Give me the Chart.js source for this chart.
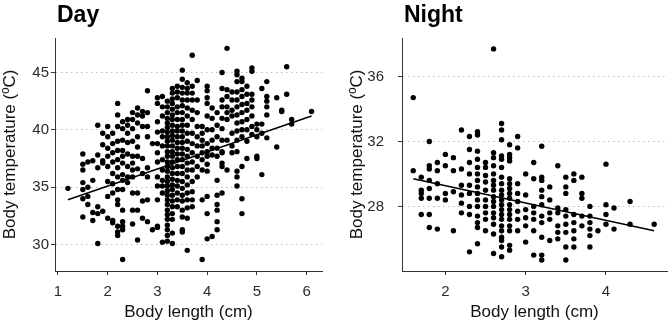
<!DOCTYPE html>
<html>
<head>
<meta charset="utf-8">
<script src="https://cdn.jsdelivr.net/npm/chart.js@4/dist/chart.umd.min.js"></script>
<style>
  body { margin: 0; background: #fff; }
  #wrap { position: relative; width: 671px; height: 325px; }
  .panel { position: absolute; top: 0; height: 325px; }
</style>
</head>
<body>
<div id="wrap">
  <div class="panel" style="left:0;width:335px"><canvas id="dayChart"></canvas></div>
  <div class="panel" style="left:335px;width:336px"><canvas id="nightChart"></canvas></div>
</div>
<script>
// Day: body length columns (cm) and the temperatures read at each one
const dayLength = [1.2, 1.5, 1.6, 1.7, 1.8, 1.9, 2.0, 2.1, 2.2, 2.3, 2.4, 2.5, 2.6, 2.7, 2.8, 2.9,
  3.0, 3.1, 3.2, 3.3, 3.4, 3.5, 3.6, 3.7, 3.8, 3.9, 4.0, 4.1, 4.2, 4.3, 4.4, 4.5, 4.6, 4.7, 4.8,
  4.9, 5.0, 5.1, 5.2, 5.4, 5.5, 5.6, 5.7, 6.1];
const dayTemp = [
  [34.9],
  [37.9, 37.0, 36.5, 35.4, 34.8, 34.0, 32.4],
  [37.2, 35.0, 34.2, 33.5],
  [37.3, 35.6, 32.8, 32.1],
  [40.4, 37.8, 36.7, 33.3, 32.7, 30.1],
  [39.7, 38.7, 37.3, 37.1, 32.9],
  [40.3, 39.4, 38.4, 37.7, 36.8, 35.5, 34.2, 32.3],
  [39.7, 38.8, 38.0, 37.2, 36.2, 35.3, 34.5, 32.1, 31.9],
  [42.3, 41.3, 40.3, 39.0, 38.2, 37.4, 36.7, 35.9, 34.8, 33.9, 33.5, 31.6, 31.1, 30.8],
  [40.7, 40.1, 39.1, 38.2, 37.7, 37.1, 36.1, 35.6, 34.8, 33.0, 32.0, 31.6, 31.3, 28.7],
  [40.9, 40.4, 39.7, 38.9, 37.9, 36.8, 35.9, 35.4],
  [41.5, 40.9, 40.1, 39.0, 37.7, 37.1, 36.5, 35.9, 34.5, 33.0, 31.8],
  [41.9, 41.3, 40.6, 39.4, 38.5, 37.7, 36.6, 34.5, 33.0, 30.4],
  [41.6, 41.2, 40.3, 37.5, 36.2, 33.8, 32.3],
  [43.4, 41.5, 40.3, 39.4, 36.7, 35.9, 33.9, 32.0],
  [38.8, 31.3],
  [42.8, 42.3, 40.7, 39.8, 38.8, 38.0, 37.2, 35.9, 35.1, 33.9, 31.6, 31.5],
  [42.9, 42.0, 41.2, 39.9, 39.4, 38.6, 37.4, 36.5, 35.6, 35.1, 34.5, 30.2],
  [42.5, 42.0, 41.5, 41.0, 40.6, 40.2, 39.8, 39.4, 39.0, 38.6, 38.1, 37.7, 37.2, 36.8, 36.4,
   35.9, 35.5, 35.1, 34.7, 34.3, 33.9, 33.5, 33.0, 32.6, 32.2, 31.7, 31.3, 30.8, 30.3],
  [43.6, 43.2, 42.7, 42.3, 41.8, 41.3, 40.9, 40.4, 39.9, 39.5, 39.1, 38.6, 38.1, 37.7, 37.2,
   36.7, 36.2, 35.7, 35.2, 34.8, 34.3, 33.8, 33.3, 32.7, 32.2, 31.0, 30.1],
  [43.8, 43.3, 42.8, 42.0, 41.5, 40.9, 40.3, 39.9, 39.4, 38.9, 38.4, 37.9, 37.4, 36.8, 36.2,
   35.6, 35.1, 34.5, 33.9, 33.3],
  [45.2, 44.4, 43.7, 43.2, 42.6, 42.1, 41.5, 40.9, 40.4, 39.9, 39.4, 38.9, 38.4, 37.9, 37.4,
   36.8, 36.2, 35.5, 34.9, 34.3, 33.8, 33.0, 32.4, 31.3, 31.1],
  [44.1, 43.6, 43.2, 42.6, 41.9, 41.2, 40.4, 39.7, 39.0, 38.3, 37.7, 37.1, 36.5, 35.9, 35.2,
   34.5, 33.9, 33.2, 32.3, 29.5],
  [46.5, 43.8, 43.2, 42.6, 41.7, 40.9, 39.7, 38.8, 38.0, 37.2, 36.5, 35.5, 34.6, 33.9, 33.3],
  [44.3, 42.6, 41.5, 40.3, 39.4, 38.6, 37.7, 36.8, 35.9],
  [40.3, 39.7, 39.1, 38.6, 38.0, 37.4, 36.5, 33.9, 28.7],
  [43.8, 43.4, 42.8, 42.3, 41.2, 40.0, 38.8, 38.1, 37.7, 37.0, 36.4, 34.2, 32.7, 30.5],
  [41.9, 41.0, 40.0, 39.1, 38.4, 37.8, 30.7],
  [41.5, 40.4, 39.4, 38.4, 37.7, 35.6, 34.3, 33.5, 33.0, 32.0, 31.3],
  [45.0, 43.6, 42.6, 42.0, 41.0, 40.1, 39.1, 38.1, 38.0, 37.1, 36.8, 34.5],
  [47.1, 43.5, 42.9, 42.0, 41.5, 40.9, 39.1, 36.5],
  [43.3, 42.6, 41.7, 41.2, 39.7, 38.6, 38.0],
  [45.1, 44.8, 44.2, 43.3, 42.6, 42.0, 41.3, 40.6, 39.9, 39.1, 38.1, 36.4, 35.9, 35.1],
  [44.5, 44.2, 43.5, 42.9, 42.2, 41.5, 40.7, 40.0, 39.4, 36.8, 34.0, 32.7],
  [43.8, 43.1, 42.3, 41.7, 40.9, 40.0, 39.0, 37.5],
  [45.4, 45.1, 43.1, 42.6, 42.0, 41.2, 40.3, 39.6],
  [40.5, 40.0, 39.4, 37.7, 37.5],
  [43.6, 40.5, 39.7, 36.1],
  [44.2, 42.9, 42.5, 42.0, 41.3, 39.3],
  [42.8, 38.5],
  [41.7, 41.6],
  [45.5, 43.1],
  [40.9, 40.5],
  [41.6]
];
const dayFitX = [1.2, 6.1];
const dayFitY = [33.9, 41.2];
const dayXTicks = [1, 2, 3, 4, 5, 6];
const dayYTicks = [30, 35, 40, 45];

// Night
const nightLength = [1.6, 1.7, 1.8, 1.9, 2.0, 2.1, 2.2, 2.3, 2.4, 2.5, 2.6, 2.7, 2.8, 2.9, 3.0,
  3.1, 3.2, 3.3, 3.4, 3.5, 3.6, 3.7, 3.8, 3.9, 4.0, 4.1, 4.3, 4.6];
const nightTemp = [
  [34.7, 30.2],
  [29.8, 29.0, 28.8, 28.5, 27.5],
  [32.0, 30.5, 30.3, 29.6, 29.1, 28.5, 27.5, 26.7],
  [30.7, 30.2, 29.4, 28.5, 26.6],
  [31.2, 30.5, 28.8, 28.4],
  [31.0, 30.2, 28.9, 26.5],
  [32.7, 30.3, 29.3, 28.7, 28.2, 27.6],
  [32.3, 31.5, 30.7, 30.0, 29.3, 28.8, 28.0, 27.5, 25.2],
  [32.6, 32.4, 31.4, 30.9, 30.4, 30.0, 29.6, 29.2, 28.8, 28.4, 28.0, 27.4, 27.0, 26.7, 25.7],
  [30.7, 30.4, 29.9, 29.5, 29.0, 28.4, 28.0, 27.6, 27.2, 26.5],
  [37.7, 31.3, 31.0, 30.5, 30.0, 29.6, 29.3, 29.0, 28.6, 28.3, 28.0, 27.6, 27.3, 26.9, 26.3, 25.1],
  [33.1, 32.7, 32.1, 31.1, 30.9, 30.4, 29.8, 29.4, 29.0, 28.7, 28.4, 28.1, 27.8, 27.5, 27.2,
   26.8, 26.5, 26.1, 25.9, 25.5, 24.9],
  [31.8, 31.2, 31.0, 30.8, 29.7, 29.4, 29.1, 28.8, 28.5, 28.1, 27.8, 27.5, 27.2, 26.8, 26.5,
   25.6, 25.3],
  [32.3, 31.6, 29.4, 28.8, 28.3, 27.7, 27.2, 26.5],
  [30.0, 28.7, 27.8, 27.3, 26.8, 25.8],
  [30.7, 29.7, 28.0, 27.6, 27.2, 26.5, 25.0],
  [31.7, 29.8, 29.6, 29.0, 28.6, 28.1, 27.4, 27.0, 26.1, 25.0, 24.7],
  [29.2, 28.4, 27.6, 27.2, 25.9],
  [30.5, 27.9, 27.6, 26.8, 26.4, 26.0],
  [29.8, 29.2, 28.8, 27.8, 27.4, 26.9, 26.4, 25.5, 24.7],
  [30.0, 29.6, 27.5, 27.0, 26.5, 26.0, 25.5],
  [29.8, 28.8, 28.5, 27.4, 26.8],
  [28.0, 27.4, 27.0, 26.6, 26.2, 25.5],
  [26.5],
  [30.6, 28.1, 27.5, 26.9],
  [27.9, 26.6],
  [28.3, 26.9],
  [26.9]
];
const nightFitX = [1.6, 4.6];
const nightFitY = [29.7, 26.5];
const nightXTicks = [2, 3, 4];
const nightYTicks = [28, 32, 36];

const FONT = "'Liberation Sans', Arial, sans-serif";

function toPoints(xs, ys) {
  return xs.flatMap((x, i) => ys[i].map(y => ({x: x, y: y})));
}

// panel title drawn over the left edge of the plot area
const panelTitle = {
  id: 'panelTitle',
  afterDraw(chart, args, opts) {
    const c = chart.ctx;
    c.save();
    c.font = 'bold 23px ' + FONT;
    c.fillStyle = '#000';
    c.textBaseline = 'alphabetic';
    c.fillText(opts.text, chart.chartArea.left + 2, 22);
    c.restore();
  }
};

function makeChart(id, o) {
  const ctx = document.getElementById(id).getContext('2d');
  return new Chart(ctx, {
    type: 'scatter',
    data: {
      datasets: [{
        type: 'line',
        data: o.fitX.map((x, i) => ({x: x, y: o.fitY[i]})),
        borderColor: '#000',
        borderWidth: 1.6,
        pointRadius: 0,
        fill: false,
        order: 0
      }, {
        data: toPoints(o.xs, o.ys),
        backgroundColor: '#000',
        borderWidth: 0,
        pointRadius: 2.7,
        order: 1
      }]
    },
    plugins: [panelTitle],
    options: {
      responsive: true,
      maintainAspectRatio: false,
      animation: false,
      layout: { padding: { top: 38, right: o.padRight, left: 0, bottom: 0 } },
      plugins: {
        legend: { display: false },
        tooltip: { enabled: false },
        panelTitle: { text: o.title }
      },
      scales: {
        x: {
          type: 'linear',
          min: o.xMin, max: o.xMax,
          afterBuildTicks: s => { s.ticks = o.xTicks.map(v => ({value: v})); },
          afterFit: s => { s.height = 54; },
          grid: { drawOnChartArea: false, tickLength: 4, tickColor: '#333' },
          border: { color: '#333', width: 1 },
          ticks: { color: '#2b2b2b', padding: 8, font: { family: FONT, size: 15 } },
          title: { display: true, text: 'Body length (cm)', color: '#111',
                   padding: { top: 0, bottom: 2 }, font: { family: FONT, size: 17 } }
        },
        y: {
          min: o.yMin, max: o.yMax,
          afterBuildTicks: s => { s.ticks = o.yTicks.map(v => ({value: v})); },
          afterFit: s => { s.width = o.yWidth; },
          grid: { color: '#bdbdbd', lineWidth: 1, tickLength: 4, tickColor: '#333' },
          border: { color: '#333', width: 1, dash: [1.5, 3.5] },
          ticks: { color: '#2b2b2b', padding: o.yPad, font: { family: FONT, size: 15 } },
          title: { display: true, text: 'Body temperature (ºC)', color: '#111',
                   padding: { top: o.yTitlePad, bottom: 0 }, font: { family: FONT, size: 17 } }
        }
      }
    }
  });
}

makeChart('dayChart', {
  title: 'Day', xs: dayLength, ys: dayTemp, fitX: dayFitX, fitY: dayFitY,
  xTicks: dayXTicks, yTicks: dayYTicks,
  xMin: 0.94, xMax: 6.31, yMin: 27.7, yMax: 48.0,
  yWidth: 55, yPad: 2, yTitlePad: 0, padRight: 13
});

makeChart('nightChart', {
  title: 'Night', xs: nightLength, ys: nightTemp, fitX: nightFitX, fitY: nightFitY,
  xTicks: nightXTicks, yTicks: nightYTicks,
  xMin: 1.46, xMax: 4.76, yMin: 24.02, yMax: 38.37,
  yWidth: 67, yPad: 14, yTitlePad: 12, padRight: 1
});
</script>
</body>
</html>
